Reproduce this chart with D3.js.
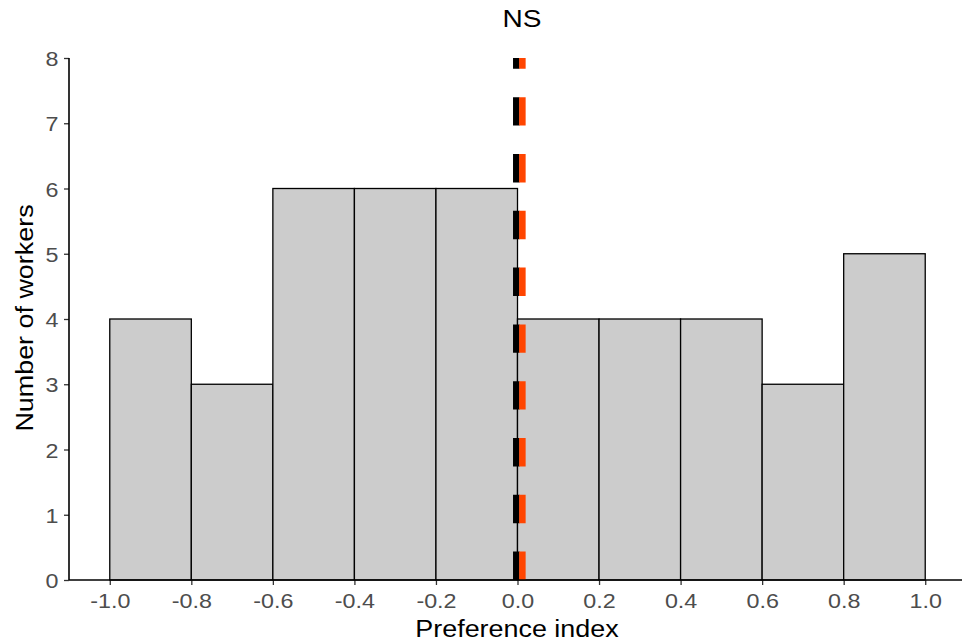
<!DOCTYPE html>
<html>
<head>
<meta charset="utf-8">
<script src="https://cdn.jsdelivr.net/npm/d3@7"></script>
<style>
  html, body { margin: 0; padding: 0; background: #fff; }
  svg { display: block; font-family: "Liberation Sans", Arial, sans-serif; }
</style>
</head>
<body>
<svg id="chart" width="962" height="643"></svg>
<script>
// Data
const binStarts = [-1.0, -0.8, -0.6, -0.4, -0.2, 0.0, 0.2, 0.4, 0.6, 0.8];
const binWidth = 0.2;
const counts = [4, 3, 6, 6, 6, 4, 4, 4, 3, 5];
const xTicks = [-1.0, -0.8, -0.6, -0.4, -0.2, 0.0, 0.2, 0.4, 0.6, 0.8, 1.0];
const yTicks = [0, 1, 2, 3, 4, 5, 6, 7, 8];
const refLines = [
  { value: -0.003, color: "#000000" },
  { value: 0.012, color: "#FF4500" }
];
const titleText = "NS";
const xLabel = "Preference index";
const yLabel = "Number of workers";

const svg = d3.select("#chart");
const panel = { left: 69, right: 966, top: 58, bottom: 580 };
const tickFont = 21, tickStretch = 1.11;
const titleFont = 23, titleStretch = 1.17;

const x = d3.scaleLinear().domain([-1.1, 1.1]).range([panel.left, panel.right]);
const y = d3.scaleLinear().domain([0, 8]).range([panel.bottom, panel.top]);

svg.append("defs").append("clipPath").attr("id", "clip")
  .append("rect")
  .attr("x", panel.left).attr("y", panel.top)
  .attr("width", panel.right - panel.left).attr("height", panel.bottom - panel.top);

// Bars
svg.append("g").selectAll("rect")
  .data(binStarts.map((s, i) => ({ s, c: counts[i] })))
  .join("rect")
  .attr("x", d => x(d.s))
  .attr("y", d => y(d.c))
  .attr("width", d => x(d.s + binWidth) - x(d.s))
  .attr("height", d => y(0) - y(d.c))
  .attr("fill", "#cccccc")
  .attr("stroke", "#000")
  .attr("stroke-width", 1.3);

// Reference lines
svg.append("g").attr("clip-path", "url(#clip)").selectAll("line")
  .data(refLines)
  .join("line")
  .attr("x1", d => x(d.value)).attr("x2", d => x(d.value))
  .attr("y1", panel.bottom).attr("y2", panel.top - 40)
  .attr("stroke", d => d.color)
  .attr("stroke-width", 6.5)
  .attr("stroke-dasharray", "28.4,28.4");

// X axis
const xAxis = d3.axisBottom(x).tickValues(xTicks).tickFormat(d3.format(".1f")).tickSize(5);
const gx = svg.append("g").attr("transform", `translate(0,${panel.bottom})`).call(xAxis);
gx.select(".domain").remove();
gx.append("line").attr("x1", panel.left).attr("x2", 962).attr("y1", 0).attr("y2", 0)
  .attr("stroke", "#000").attr("stroke-width", 1.6);
gx.selectAll(".tick line").attr("stroke", "#333").attr("stroke-width", 1.3);
gx.selectAll(".tick text")
  .attr("fill", "#4d4d4d").attr("font-size", tickFont)
  .attr("font-family", "Liberation Sans, Arial, sans-serif")
  .attr("y", 0).attr("dy", null)
  .attr("transform", `translate(0,28.3) scale(${tickStretch},1)`)
  .text(d => d3.format(".1f")(d).replace("\u2212", "-"));

// Y axis
const yAxis = d3.axisLeft(y).tickValues(yTicks).tickFormat(d3.format("d")).tickSize(5);
const gy = svg.append("g").attr("transform", `translate(${panel.left},0)`).call(yAxis);
gy.select(".domain").remove();
gy.append("line").attr("x1", 0).attr("x2", 0).attr("y1", panel.top).attr("y2", panel.bottom)
  .attr("stroke", "#000").attr("stroke-width", 1.6);
gy.selectAll(".tick line").attr("stroke", "#333").attr("stroke-width", 1.3);
gy.selectAll(".tick text")
  .attr("fill", "#4d4d4d").attr("font-size", tickFont)
  .attr("font-family", "Liberation Sans, Arial, sans-serif")
  .attr("x", 0).attr("dy", null).attr("y", 0)
  .attr("transform", `translate(-10.5,7.6) scale(${tickStretch},1)`);

// Titles
svg.append("text").attr("transform", `translate(522,26.7) scale(${titleStretch + 0.05},1)`)
  .attr("text-anchor", "middle")
  .attr("font-size", titleFont).attr("fill", "#000").text(titleText);
svg.append("text").attr("transform", `translate(517,637) scale(${titleStretch},1)`)
  .attr("text-anchor", "middle")
  .attr("font-size", titleFont).attr("fill", "#000").text(xLabel);
svg.append("text").attr("transform", `translate(33,318) rotate(-90) scale(${titleStretch},1)`)
  .attr("text-anchor", "middle")
  .attr("font-size", titleFont).attr("fill", "#000").text(yLabel);
</script>
</body>
</html>
